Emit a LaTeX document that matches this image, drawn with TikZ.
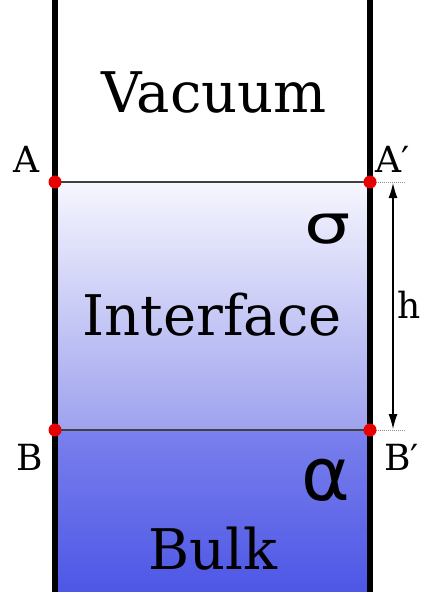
\documentclass[tikz,border=0pt]{standalone}
\usepackage{fontspec}
\setmainfont{DejaVu Serif}
\newfontfamily\greekfont{DejaVu Sans}
\usetikzlibrary{arrows.meta}
\definecolor{ifTop}{HTML}{F6F6FE}
\definecolor{ifBot}{HTML}{9EA2EE}
\definecolor{bkTop}{HTML}{7A80EC}
\definecolor{bkBot}{HTML}{4E57E6}
\definecolor{dotred}{HTML}{E60000}
\tikzset{
  wall/.style={line width=6pt, black},
  level/.style={line width=1.2pt, black!75},
  guide/.style={line width=1pt, black!45, densely dotted},
  reddot/.style={circle, fill=dotred, inner sep=0pt, minimum size=13pt},
  bigtext/.style={anchor=base, inner sep=0pt, font=\fontsize{56}{60}\selectfont},
  lab/.style={anchor=base, inner sep=0pt, font=\fontsize{36}{40}\selectfont},
}
\begin{document}
\begin{tikzpicture}[x=1pt,y=-1pt]
\useasboundingbox (0,0) rectangle (422,598);
% fills
\shade[top color=ifTop, bottom color=ifBot] (55,182) rectangle (370,430);
\shade[top color=bkTop, bottom color=bkBot] (55,430) rectangle (370,591);
% coordinates
\coordinate (A) at (55,182);
\coordinate (A2) at (370,182);
\coordinate (B) at (55,430);
\coordinate (B2) at (370,430);
\coordinate (Ae) at (406,182);
\coordinate (Be) at (406,430);
\coordinate (hT) at (393,183);
\coordinate (hB) at (393,429);
\coordinate (LT) at (55,0);
\coordinate (LB) at (55,592);
\coordinate (RT) at (370,0);
\coordinate (RB) at (370,592);
% level lines
\draw[level] (A) -- (A2);
\draw[level] (B) -- (B2);
\draw[guide] (A2) -- (Ae);
\draw[guide] (B2) -- (Be);
% walls
\draw[wall] (LT) -- (LB);
\draw[wall] (RT) -- (RB);
% arrow
\draw[line width=1.2pt, {Latex[length=15pt,width=9pt]}-{Latex[length=15pt,width=9pt]}] (hT) -- (hB);
% dots
\node[reddot] (dA) at (A) {};
\node[reddot] (dA2) at (A2) {};
\node[reddot] (dB) at (B) {};
\node[reddot] (dB2) at (B2) {};
% texts
\node[bigtext] (vac) at (214,112) {Vacuum};
\node[bigtext] (intf) at (212,335) {Interface};
\node[bigtext] (bulk) at (213,569) {Bulk};
\node[anchor=base, inner sep=0pt, xscale=1.35, font=\greekfont\fontsize{54}{60}\selectfont] (sig) at (328,243) {σ};
\node[anchor=base, inner sep=0pt, font=\greekfont\fontsize{74}{80}\selectfont] (alp) at (326,500) {α};
\node[lab] (lA) at (26,172) {A};
\node[lab, anchor=base west] (lA2) at (375,172) {A′};
\node[lab] (lB) at (30,470) {B};
\node[lab, anchor=base west] (lB2) at (384,470) {B′};
\node[lab, anchor=base west] (lh) at (397,318) {h};
\end{tikzpicture}
\end{document}
